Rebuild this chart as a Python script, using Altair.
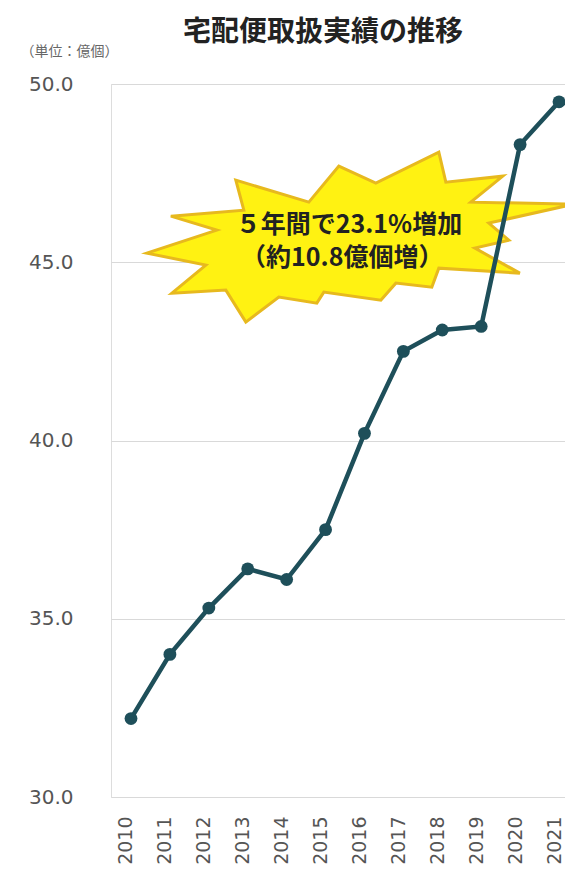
import altair as alt
import pandas as pd

# ---- data ----
years = [2010, 2011, 2012, 2013, 2014, 2015, 2016, 2017, 2018, 2019, 2020, 2021]
parcels = [32.2, 34.0, 35.3, 36.4, 36.1, 37.5, 40.2, 42.5, 43.1, 43.2, 48.3, 49.5]
y_ticks = [30, 35, 40, 45, 50]
title_text = "宅配便取扱実績の推移"
unit_text = "（単位：億個）"
note_lines = ["５年間で23.1%増加", "（約10.8億個増）"]

# ---- annotation placement (data coordinates) ----
burst_pos = {"year": 2015.47, "value": 45.34}
note_pos_year = [2015.60, 2015.43]
note_pos_value = [46.05, 45.13]

# ---- starburst shape (style: outline of the badge, in px relative to its centre) ----
burst_outline = [
    (-108, -70), (-35, -48), (-5, -84), (32, -67), (95, -98), (102, -68),
    (159, -74), (127, -48), (230, -46), (145, -27), (165, -10), (131, -2),
    (176, 23), (95, 18), (88, 37), (52, 33), (37, 50), (-20, 42), (-27, 53),
    (-65, 47), (-98, 72), (-118, 40), (-172, 43), (-138, 15), (-197, 3),
    (-127, -20), (-173, -34), (-100, -40),
]
R = 230.0
burst_path = "M " + " L ".join(f"{x / R:.4f} {y / R:.4f}" for x, y in burst_outline) + " Z"
burst_size = (2 * R) ** 2

df = pd.DataFrame({"year": years, "value": parcels})
burst_df = pd.DataFrame([burst_pos])
note_df = pd.DataFrame({"year": note_pos_year, "value": note_pos_value, "label": note_lines})

LINE_COLOR = "#1E4F5A"
LABEL_FONT = "DejaVu Sans"
CJK_FONT = "Noto Sans CJK JP"

X = alt.X(
    "year:Q",
    scale=alt.Scale(domain=[2009.486, 2021.154], nice=False, zero=False),
    axis=alt.Axis(
        values=years, format="d", labelAngle=-90, grid=False, domain=False,
        ticks=False, labelPadding=19, labelFontSize=19, labelColor="#555555",
        labelFont=LABEL_FONT, title=None, labelOverlap=False, labelFlush=False,
        labelBound=False, labelOffset=-5,
    ),
)
Y = alt.Y(
    "value:Q",
    scale=alt.Scale(domain=[30, 50], nice=False, zero=False),
    axis=alt.Axis(
        values=y_ticks, format=".1f", grid=True, gridColor="#d9d9d9", gridWidth=1,
        domain=False, ticks=False, labelPadding=38, labelFontSize=20,
        labelColor="#555555", labelFont=LABEL_FONT, labelFlush=False,
        title=unit_text, titleAngle=0, titleX=-91, titleY=-33, titleAlign="left",
        titleBaseline="middle", titleFontSize=14, titleFontWeight="normal",
        titleColor="#666666", titleFont=CJK_FONT,
    ),
)

burst = alt.Chart(burst_df).mark_point(
    shape=burst_path, size=burst_size, filled=True, fill="#FFF212",
    stroke="#E7B91E", strokeWidth=3, opacity=1,
).encode(x=X, y=Y)

note = alt.Chart(note_df).mark_text(
    font=CJK_FONT, fontSize=25, fontWeight="bold", color="#222222",
    align="center", baseline="middle",
).encode(x=X, y=Y, text="label:N")

line = alt.Chart(df).mark_line(color=LINE_COLOR, strokeWidth=4.5).encode(x=X, y=Y)
points = alt.Chart(df).mark_circle(color=LINE_COLOR, size=165, opacity=1).encode(x=X, y=Y)

chart = alt.layer(burst, note, line, points).properties(
    width=454,
    height=713,
    autosize=alt.AutoSizeParams(type="none"),
    padding={"left": 103, "top": 76, "right": 0, "bottom": 68},
    title=alt.TitleParams(
        text=title_text, font=CJK_FONT, fontSize=28, fontWeight="bold",
        color="#222222", anchor="middle", dx=-15, offset=-3, frame="group",
    ),
).configure_view(stroke="#d6d6d6", strokeWidth=2.5).configure(background="white")

chart.save("out.html", embed_options={"renderer": "svg", "actions": False})
